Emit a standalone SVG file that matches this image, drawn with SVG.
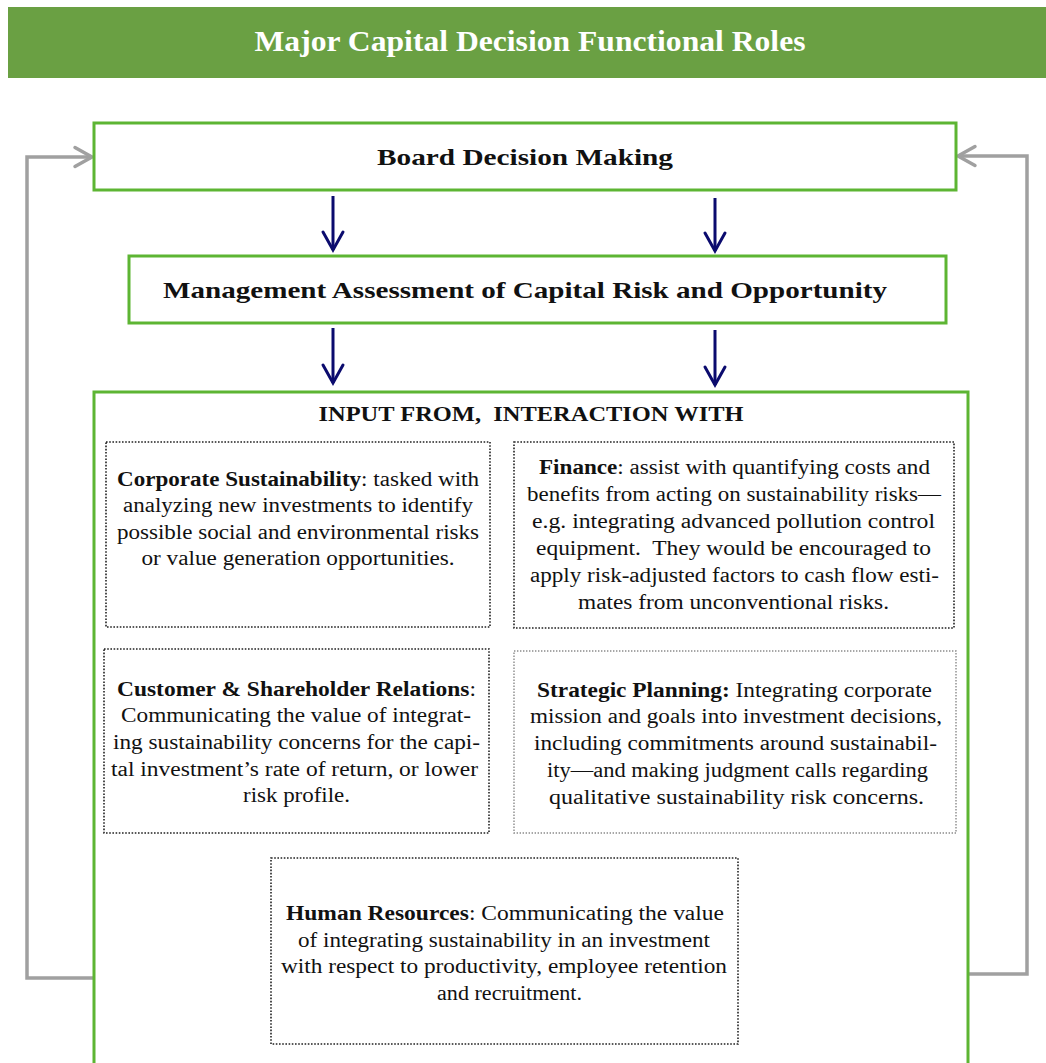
<svg xmlns="http://www.w3.org/2000/svg" width="1046" height="1063" viewBox="0 0 1046 1063">
<style>
.bg{fill:#ffffff}
.green{fill:#ffffff;stroke:#5db533;stroke-width:3}
.dot{fill:#ffffff;stroke:#222222;stroke-width:1.6;stroke-dasharray:1.6 1.6}
.dotg{fill:#ffffff;stroke:#8a8a8a;stroke-width:1.4;stroke-dasharray:1.4 1.6}
.t{font-family:"Liberation Serif","Times New Roman",serif;fill:#111111}
.hd{font-size:24px;font-weight:bold;text-anchor:middle}
.body{font-size:20.5px;text-anchor:middle}
.b{font-weight:bold}
.nav{stroke:#0b0b6e;stroke-width:3;fill:none;marker-end:url(#navHead)}
.gry{stroke:#a0a0a0;stroke-width:3.5;fill:none;marker-end:url(#grayHead)}
</style>
<defs>
<marker id="navHead" viewBox="-2 -2 24 24" refX="18" refY="10" markerWidth="24" markerHeight="24" markerUnits="userSpaceOnUse" orient="auto" overflow="visible">
<path d="M0,0 L18,10 L0,20" fill="none" stroke="#0b0b6e" stroke-width="3" stroke-linecap="round" stroke-linejoin="miter"/>
</marker>
<marker id="grayHead" viewBox="-2 -2 24 24" refX="17" refY="9.5" markerWidth="24" markerHeight="24" markerUnits="userSpaceOnUse" orient="auto" overflow="visible">
<path d="M0,0 L17,9.5 L0,19" fill="none" stroke="#a0a0a0" stroke-width="3.5" stroke-linecap="round"/>
</marker>
</defs>
<rect class="bg" x="0" y="0" width="1046" height="1063"/>

<g id="title">
<rect x="8" y="7" width="1038" height="71" fill="#6aa043"/>
<text x="530" y="51" font-family="'Liberation Serif','Times New Roman',serif" font-size="30" font-weight="bold" fill="#ffffff" text-anchor="middle" textLength="551" lengthAdjust="spacingAndGlyphs">Major Capital Decision Functional Roles</text>
</g>

<g id="connectors">
<polyline class="gry" points="94,978 27,978 27,157 92,157"/>
<polyline class="gry" points="968,974 1027,974 1027,156 958,156"/>
<line class="nav" x1="333" y1="196" x2="333" y2="250"/>
<line class="nav" x1="715" y1="198" x2="715" y2="251"/>
<line class="nav" x1="333" y1="328" x2="333" y2="383"/>
<line class="nav" x1="715" y1="330" x2="715" y2="385"/>
</g>

<g id="board">
<rect class="green" x="94" y="123" width="862" height="67"/>
<text class="t hd" x="525" y="165" textLength="296" lengthAdjust="spacingAndGlyphs">Board Decision Making</text>
</g>

<g id="management">
<rect class="green" x="129" y="256" width="817" height="67"/>
<text class="t hd" x="525" y="298" textLength="724" lengthAdjust="spacingAndGlyphs">Management Assessment of Capital Risk and Opportunity</text>
</g>

<g id="input">
<rect class="green" x="94" y="392" width="874" height="700"/>
<text class="t" x="531" y="421" font-size="20" font-weight="bold" text-anchor="middle" textLength="425" lengthAdjust="spacingAndGlyphs" xml:space="preserve">INPUT FROM,  INTERACTION WITH</text>
</g>

<g id="corporate">
<rect class="dot" x="106" y="442" width="384" height="185"/>
<text class="t body" x="298" y="486" textLength="362" lengthAdjust="spacingAndGlyphs"><tspan class="b">Corporate Sustainability</tspan>: tasked with</text>
<text class="t body" x="298" y="512" textLength="350" lengthAdjust="spacingAndGlyphs">analyzing new investments to identify</text>
<text class="t body" x="298" y="539" textLength="362" lengthAdjust="spacingAndGlyphs">possible social and environmental risks</text>
<text class="t body" x="298" y="565" textLength="313" lengthAdjust="spacingAndGlyphs">or value generation opportunities.</text>
</g>

<g id="finance">
<rect class="dot" x="514" y="442" width="440" height="186"/>
<text class="t body" x="734.5" y="474" textLength="391" lengthAdjust="spacingAndGlyphs"><tspan class="b">Finance</tspan>: assist with quantifying costs and</text>
<text class="t body" x="734" y="501" textLength="414" lengthAdjust="spacingAndGlyphs">benefits from acting on sustainability risks—</text>
<text class="t body" x="733.5" y="528" textLength="403" lengthAdjust="spacingAndGlyphs">e.g. integrating advanced pollution control</text>
<text class="t body" x="733.5" y="555" textLength="395" lengthAdjust="spacingAndGlyphs" xml:space="preserve">equipment.  They would be encouraged to</text>
<text class="t body" x="734.5" y="582" textLength="409" lengthAdjust="spacingAndGlyphs">apply risk-adjusted factors to cash flow esti-</text>
<text class="t body" x="733.5" y="609" textLength="311" lengthAdjust="spacingAndGlyphs">mates from unconventional risks.</text>
</g>

<g id="customer">
<rect class="dot" x="104" y="649" width="385" height="184"/>
<text class="t body" x="296.5" y="696" textLength="359" lengthAdjust="spacingAndGlyphs"><tspan class="b">Customer &amp; Shareholder Relations</tspan>:</text>
<text class="t body" x="296" y="722" textLength="350" lengthAdjust="spacingAndGlyphs">Communicating the value of integrat-</text>
<text class="t body" x="296.5" y="749" textLength="367" lengthAdjust="spacingAndGlyphs">ing sustainability concerns for the capi-</text>
<text class="t body" x="294.5" y="776" textLength="367" lengthAdjust="spacingAndGlyphs">tal investment’s rate of return, or lower</text>
<text class="t body" x="296.5" y="802" textLength="107" lengthAdjust="spacingAndGlyphs">risk profile.</text>
</g>

<g id="strategic">
<rect class="dotg" x="514" y="651" width="442" height="182"/>
<text class="t body" x="734.5" y="697" textLength="395" lengthAdjust="spacingAndGlyphs"><tspan class="b">Strategic Planning:</tspan> Integrating corporate</text>
<text class="t body" x="736" y="723" textLength="412" lengthAdjust="spacingAndGlyphs">mission and goals into investment decisions,</text>
<text class="t body" x="735.5" y="750" textLength="403" lengthAdjust="spacingAndGlyphs">including commitments around sustainabil-</text>
<text class="t body" x="737.5" y="777" textLength="381" lengthAdjust="spacingAndGlyphs">ity—and making judgment calls regarding</text>
<text class="t body" x="736.5" y="804" textLength="375" lengthAdjust="spacingAndGlyphs">qualitative sustainability risk concerns.</text>
</g>

<g id="hr">
<rect class="dot" x="271" y="858" width="467" height="186"/>
<text class="t body" x="505" y="920" textLength="438" lengthAdjust="spacingAndGlyphs"><tspan class="b">Human Resources</tspan>: Communicating the value</text>
<text class="t body" x="504" y="947" textLength="412" lengthAdjust="spacingAndGlyphs">of integrating sustainability in an investment</text>
<text class="t body" x="504" y="973" textLength="446" lengthAdjust="spacingAndGlyphs">with respect to productivity, employee retention</text>
<text class="t body" x="509.5" y="1000" textLength="145" lengthAdjust="spacingAndGlyphs">and recruitment.</text>
</g>
</svg>
